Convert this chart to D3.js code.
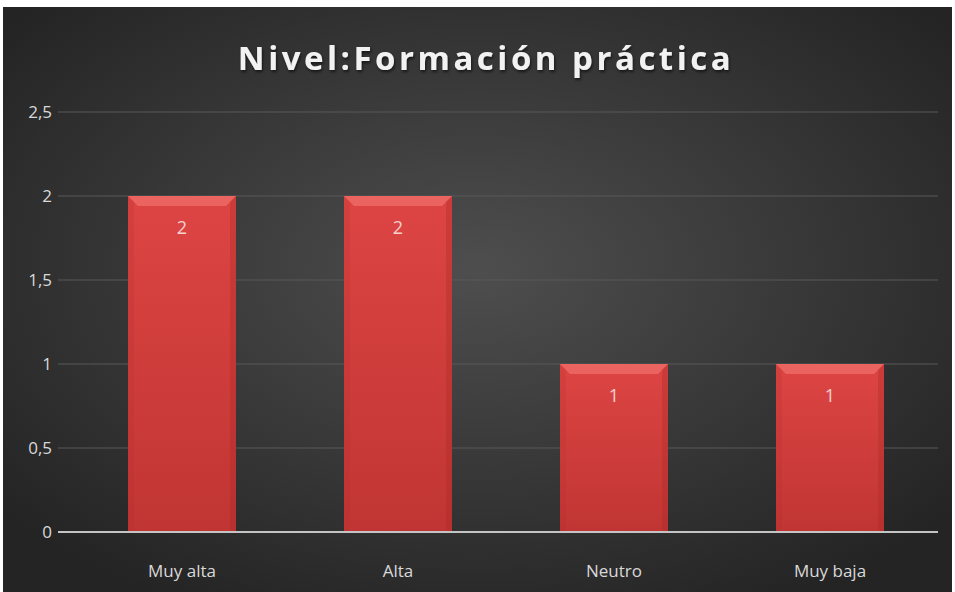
<!DOCTYPE html>
<html>
<head>
<meta charset="utf-8">
<script src="https://cdn.jsdelivr.net/npm/d3@7"></script>
<style>
  body { margin: 0; background: #fff; }
  text { font-family: "Open Sans", "Noto Sans", sans-serif; }
</style>
</head>
<body>
<div id="chart"></div>
<script>
// chart data
var categories = ["Muy alta", "Alta", "Neutro", "Muy baja"];
var values = [2, 2, 1, 1];
var yTicks = [0, 0.5, 1, 1.5, 2, 2.5];
var chartTitle = "Nivel:Formación práctica";

var svgWidth = 955;
var svgHeight = 592;

var svg = d3.select("#chart")
  .append("svg")
  .attr("width", svgWidth)
  .attr("height", svgHeight);

var defs = svg.append("defs");

// radial background
var bg = defs.append("radialGradient")
  .attr("id", "bg")
  .attr("cx", "50%").attr("cy", "45%").attr("r", "65%");
bg.append("stop").attr("offset", "0%").attr("stop-color", "#4e4e4e");
bg.append("stop").attr("offset", "100%").attr("stop-color", "#242424");

// bar fill
var barGrad = defs.append("linearGradient")
  .attr("id", "barGrad")
  .attr("x1", 0).attr("y1", 0).attr("x2", 0).attr("y2", 1);
barGrad.append("stop").attr("offset", "0%").attr("stop-color", "#dd4543");
barGrad.append("stop").attr("offset", "100%").attr("stop-color", "#c03533");

var shadow = defs.append("filter").attr("id", "tshadow");
shadow.append("feDropShadow")
  .attr("dx", 1).attr("dy", 2).attr("stdDeviation", 1.5)
  .attr("flood-color", "#000").attr("flood-opacity", 0.6);

svg.append("rect")
  .attr("x", 3).attr("y", 7)
  .attr("width", 949).attr("height", 585)
  .attr("fill", "url(#bg)");

var x = d3.scaleBand()
  .domain(categories)
  .range([74, 938])
  .padding(0.5)
  .paddingOuter(0.25);

var y = d3.scaleLinear()
  .domain([0, 2.5])
  .range([532, 112]);

// gridlines
svg.append("g")
  .selectAll("line")
  .data(yTicks.filter(d => d > 0))
  .enter()
  .append("line")
  .attr("x1", 58).attr("x2", 938)
  .attr("y1", d => y(d)).attr("y2", d => y(d))
  .attr("stroke", "#585858")
  .attr("stroke-width", 1);

// y labels
var fmt = d => String(d).replace(".", ",");
svg.append("g")
  .selectAll("text")
  .data(yTicks)
  .enter()
  .append("text")
  .attr("x", 52)
  .attr("y", d => y(d))
  .attr("dy", "0.35em")
  .attr("text-anchor", "end")
  .attr("fill", "#d9d9d9")
  .attr("font-size", 17)
  .text(fmt);

// bars
var bars = svg.append("g")
  .selectAll("g")
  .data(values)
  .enter()
  .append("g");

bars.append("rect")
  .attr("x", (d, i) => x(categories[i]))
  .attr("y", d => y(d))
  .attr("width", x.bandwidth())
  .attr("height", d => y(0) - y(d))
  .attr("fill", "url(#barGrad)");

// bevel on top
bars.append("polygon")
  .attr("points", function(d, i) {
    var x0 = x(categories[i]), x1 = x0 + x.bandwidth(), t = y(d), b = 10;
    return [[x0, t], [x1, t], [x1 - b, t + b], [x0 + b, t + b]].join(" ");
  })
  .attr("fill", "#ef6c68")
  .attr("opacity", 0.8);
bars.append("polygon")
  .attr("points", function(d, i) {
    var x0 = x(categories[i]), t = y(d), b = 6;
    return [[x0, t], [x0 + b, t + b], [x0 + b, y(0)], [x0, y(0)]].join(" ");
  })
  .attr("fill", "#b32e2c")
  .attr("opacity", 0.2);
bars.append("polygon")
  .attr("points", function(d, i) {
    var x1 = x(categories[i]) + x.bandwidth(), t = y(d), b = 6;
    return [[x1, t], [x1 - b, t + b], [x1 - b, y(0)], [x1, y(0)]].join(" ");
  })
  .attr("fill", "#a52826")
  .attr("opacity", 0.3);

// value labels
bars.append("text")
  .attr("x", (d, i) => x(categories[i]) + x.bandwidth() / 2)
  .attr("y", d => y(d) + 38)
  .attr("text-anchor", "middle")
  .attr("fill", "#f6d2d0")
  .attr("font-size", 18)
  .text(d => d);

// baseline
svg.append("line")
  .attr("x1", 58).attr("x2", 938)
  .attr("y1", y(0)).attr("y2", y(0))
  .attr("stroke", "#c4c4c4")
  .attr("stroke-width", 2);

// x labels
svg.append("g")
  .selectAll("text")
  .data(categories)
  .enter()
  .append("text")
  .attr("x", d => x(d) + x.bandwidth() / 2)
  .attr("y", 577)
  .attr("text-anchor", "middle")
  .attr("fill", "#d9d9d9")
  .attr("font-size", 17)
  .text(d => d);

// title
svg.append("text")
  .attr("x", 486)
  .attr("y", 70)
  .attr("text-anchor", "middle")
  .attr("fill", "#f2f2f2")
  .attr("font-size", 33)
  .attr("font-weight", "bold")
  .attr("letter-spacing", 3.5)
  .attr("filter", "url(#tshadow)")
  .text(chartTitle);
</script>
</body>
</html>
